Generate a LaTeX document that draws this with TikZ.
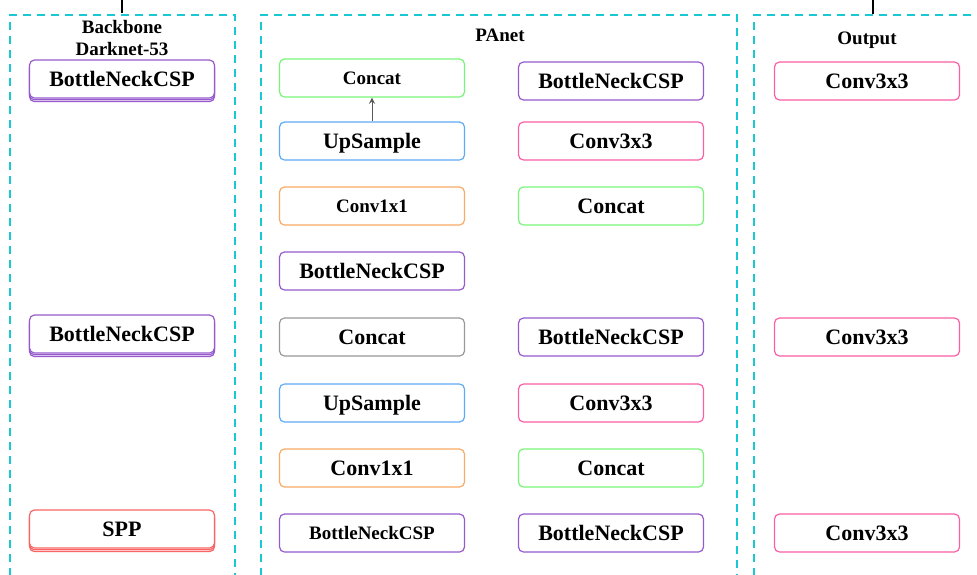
\documentclass[tikz,border=0pt]{standalone}
\usepackage{fontspec}
\setmainfont{Liberation Serif}
\usepackage{tikz}
\usetikzlibrary{shadows}
\definecolor{grpcyan}{RGB}{25,200,210}
\definecolor{cspviolet}{RGB}{150,90,205}
\definecolor{catgreen}{RGB}{120,245,120}
\definecolor{upblue}{RGB}{95,170,245}
\definecolor{convorange}{RGB}{250,170,100}
\definecolor{convpink}{RGB}{250,95,165}
\definecolor{sppred}{RGB}{250,100,100}

\begin{document}
\begin{tikzpicture}[x=0.5pt,y=-0.5pt,
	blk/.style={draw,rounded corners=2.5pt,fill=white,line width=0.6pt,
		minimum width=92.5pt,minimum height=19pt,inner sep=0pt,
		text height=9.3pt,text depth=2pt,
		font=\bfseries\fontsize{11}{13}\selectfont},
	smalltxt/.style={text height=8.4pt,font=\bfseries\fontsize{9.5}{11}\selectfont},
	stack/.style={double copy shadow={shadow xshift=0pt,shadow yshift=-0.9pt}},
	grp/.style={grpcyan,line width=1.4pt,dash pattern=on 4pt off 3pt},
	ttl/.style={font=\bfseries\fontsize{9.5}{11}\selectfont}]
				\useasboundingbox (0,0) rectangle (977,574);
				\clip (0,0) rectangle (977,574);
				
				% dashed groups
				\draw[grp] (10,590) -- (10,15) -- (235,15) -- (235,590);
				\draw[grp] (261,590) -- (261,15) -- (737,15) -- (737,590);
				\draw[grp] (754,590) -- (754,15) -- (990,15);
				
				% incoming stubs
				\coordinate (inA) at (122,0);
				\coordinate (inB) at (873,0);
				\draw[line width=1.2pt] (inA) -- ++(0,13);
				\draw[line width=1.2pt] (inB) -- ++(0,14);
				
				\node[ttl,align=center] (bbtitle) at (122,38) {Backbone\\Darknet-53};
				\node[ttl] (patitle) at (500,35) {PAnet};
				\node[ttl] (outtitle) at (867,40) {Output};
				
				% backbone
				\node[blk,stack,draw=cspviolet] (b1) at (122,79) {BottleNeckCSP};
				\node[blk,stack,draw=cspviolet] (b2) at (122,334) {BottleNeckCSP};
				\node[blk,stack,draw=sppred] (spp) at (122,529) {SPP};
				
				% PAnet, left column
				\node[blk,smalltxt,draw=catgreen] (pa1) at (372,78) {Concat};
				\node[blk,draw=upblue] (pa2) at (372,141) {UpSample};
				\node[blk,smalltxt,draw=convorange] (pa3) at (372,206) {Conv1x1};
				\node[blk,draw=cspviolet] (pa4) at (372,271) {BottleNeckCSP};
				\node[blk,draw=gray!80] (pa5) at (372,337) {Concat};
				\node[blk,draw=upblue] (pa6) at (372,403) {UpSample};
				\node[blk,draw=convorange] (pa7) at (372,468) {Conv1x1};
				\node[blk,smalltxt,draw=cspviolet] (pa8) at (372,533) {BottleNeckCSP};
				
				% PAnet, right column
				\node[blk,draw=cspviolet] (pb1) at (611,81) {BottleNeckCSP};
				\node[blk,draw=convpink] (pb2) at (611,141) {Conv3x3};
				\node[blk,draw=catgreen] (pb3) at (611,206) {Concat};
				\node[blk,draw=cspviolet] (pb5) at (611,337) {BottleNeckCSP};
				\node[blk,draw=convpink] (pb6) at (611,403) {Conv3x3};
				\node[blk,draw=catgreen] (pb7) at (611,468) {Concat};
				\node[blk,draw=cspviolet] (pb8) at (611,533) {BottleNeckCSP};
				
				% output
				\node[blk,draw=convpink] (o1) at (867,81) {Conv3x3};
				\node[blk,draw=convpink] (o2) at (867,337) {Conv3x3};
				\node[blk,draw=convpink] (o3) at (867,533) {Conv3x3};
				
				\draw[->,>=stealth,gray!70!black,line width=0.4pt] (pa2) -- (pa1);
			\end{tikzpicture}
\end{document}
